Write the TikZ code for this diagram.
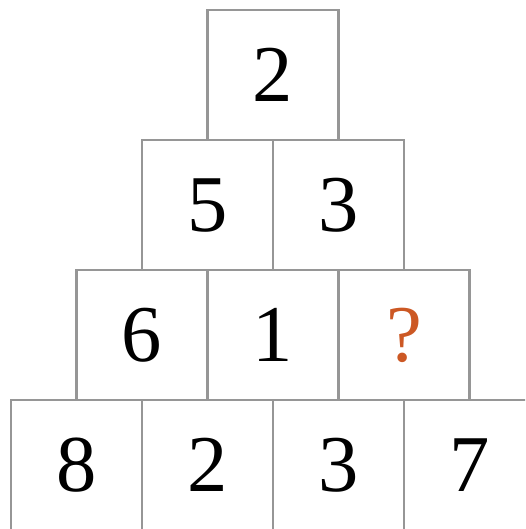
\documentclass[tikz,border=0pt]{standalone}
\usepackage{fontspec}
\setmainfont{Liberation Serif}
\usetikzlibrary{positioning}
\definecolor{cellgray}{RGB}{150,150,150}
\definecolor{askorange}{RGB}{204,88,36}

\begin{document}
\begin{tikzpicture}[node distance=0cm, every node/.style={font=\fontsize{35}{40}\selectfont}]
  \tikzset{cell/.style={draw=cellgray,line width=0.9pt,minimum width=2cm,minimum height=1.985cm,outer sep=0pt,inner sep=0pt}}
  \useasboundingbox (0,0) rectangle (8.015,-8.076);
  \clip (0,0) rectangle (8.015,-8.076);
  % bottom row
  \node[cell] (b1) at (1.168,-7.1) {8};
  \node[cell,right=of b1] (b2) {2};
  \node[cell,right=of b2] (b3) {3};
  \node[cell,right=of b3] (b4) {7};
  % third row
  \node[cell,above=of b1.north east] (c1) {6};
  \node[cell,right=of c1] (c2) {1};
  \node[cell,right=of c2,text=askorange] (c3) {?};
  % second row
  \node[cell,above=of c1.north east] (d1) {5};
  \node[cell,right=of d1] (d2) {3};
  % top
  \node[cell,above=of d1.north east] (e1) {2};
\end{tikzpicture}
\end{document}
